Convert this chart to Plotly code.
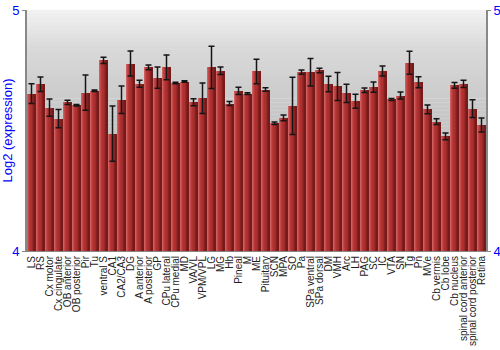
import plotly.graph_objects as go

regions = ["LS", "RS", "Cx motor", "Cx cingulate", "OB anterior", "OB posterior", "Pir", "Tu",
           "ventral S", "CA1", "CA2/CA3", "DG", "A anterior", "A posterior", "GP", "CPu lateral",
           "CPu medial", "MD", "VA/VL", "VPM/VPL", "LG", "MG", "Hb", "Pineal", "M", "ME",
           "Pituitary", "SCN", "MPA", "SO", "Pa", "SPa ventral", "SPa dorsal", "DM", "VMH", "Arc",
           "LH", "PAG", "SC", "IC", "VTA", "SN", "Tg", "Pn", "MVe", "Cb vermis", "Cb lobe",
           "Cb nucleus", "spinal cord anterior", "spinal cord posterior", "Retina"]

expression = [4.653, 4.692, 4.595, 4.549, 4.617, 4.605, 4.657, 4.665,
              4.791, 4.487, 4.628, 4.778, 4.694, 4.762, 4.719, 4.762,
              4.697, 4.703, 4.617, 4.634, 4.762, 4.748, 4.612, 4.664, 4.653, 4.745,
              4.670, 4.530, 4.552, 4.602, 4.742, 4.742, 4.749, 4.693, 4.683, 4.654,
              4.621, 4.667, 4.680, 4.747, 4.629, 4.645, 4.781, 4.700, 4.588, 4.537, 4.476,
              4.687, 4.693, 4.591, 4.523]

error = [0.041, 0.030, 0.036, 0.038, 0.009, 0.003, 0.073, 0.003,
         0.013, 0.115, 0.057, 0.052, 0.0145, 0.0097, 0.044, 0.051,
         0.003, 0.003, 0.0145, 0.063, 0.088, 0.016, 0.008, 0.015, 0.004, 0.051,
         0.007, 0.005, 0.012, 0.119, 0.009, 0.057, 0.009, 0.032, 0.058, 0.038,
         0.029, 0.0095, 0.021, 0.021, 0.004, 0.0145, 0.048, 0.023, 0.018, 0.012, 0.014,
         0.012, 0.015, 0.037, 0.029]

y_ticks = [4, 5]

fig = go.Figure()

# gradient background strips
n_strips = 60
def bg_level(t):
    pts = [(0.0, 242), (0.17, 216), (0.46, 198), (1.0, 186)]
    for (t0, v0), (t1, v1) in zip(pts, pts[1:]):
        if t0 <= t <= t1:
            return v0 + (v1 - v0) * (t - t0) / (t1 - t0)
    return pts[-1][1]
shapes = []
for k in range(n_strips):
    t = (k + 0.5) / n_strips
    v = int(round(bg_level(t)))
    shapes.append(dict(type="rect", xref="paper", yref="paper",
                       x0=0, x1=1, y0=1 - (k + 1) / n_strips, y1=1 - k / n_strips + 0.001,
                       fillcolor=f"rgb({v},{v},{v})", line=dict(width=0), layer="below"))

# bars drawn as vertical stripes to imitate a horizontal gradient
stripe_colors = ["#d06060", "#c44848", "#b83a3a", "#ac3030", "#9c2828", "#882020", "#741a1a"]
total_w = 0.86
sw = total_w / len(stripe_colors)
for k, c in enumerate(stripe_colors):
    fig.add_trace(go.Bar(x=regions, y=expression, width=sw + 0.01, offset=-total_w / 2 + k * sw,
                         marker=dict(color=c, line=dict(width=0)), hoverinfo="skip",
                         showlegend=False))

fig.add_trace(go.Scatter(x=regions, y=expression, mode="markers",
                         marker=dict(size=1, color="rgba(0,0,0,0)"),
                         error_y=dict(type="data", array=error, visible=True,
                                      color="#151515", thickness=1.5, width=3),
                         showlegend=False))

fig.add_trace(go.Scatter(x=[regions[0]], y=[4.5], yaxis="y2", mode="markers",
                         marker=dict(size=1, color="rgba(0,0,0,0)"), showlegend=False,
                         hoverinfo="skip"))

fig.update_layout(
    width=500, height=350,
    margin=dict(l=27, r=14, t=10, b=99),
    paper_bgcolor="white", plot_bgcolor="white",
    barmode="overlay", bargap=0,
    shapes=shapes,
    font=dict(family="Liberation Sans, Arial, sans-serif"),
    xaxis=dict(type="category", tickangle=-90, tickfont=dict(size=10, color="#222"),
               tickmode="array", tickvals=regions, ticktext=regions, automargin=False,
               showgrid=False, showline=True, linecolor="#888", linewidth=1,
               ticks="", ticklen=0, range=[-0.5, len(regions) - 0.5]),
    yaxis=dict(range=[4, 5], tickvals=y_ticks, ticktext=[str(v) for v in y_ticks],
               tickfont=dict(size=13, color="blue"), showgrid=False, zeroline=False,
               showline=True, linecolor="#888", linewidth=2, ticks="outside", ticklen=3,
               tickcolor="#888", automargin=False,
               title=dict(text="Log2 (expression)", font=dict(size=13, color="blue"), standoff=0)),
    yaxis2=dict(range=[4, 5], overlaying="y", side="right", tickvals=y_ticks,
                ticktext=[str(v) for v in y_ticks], tickfont=dict(size=13, color="blue"),
                showgrid=False, zeroline=False, showline=True, linecolor="#888", linewidth=2,
                ticks="outside", ticklen=3, tickcolor="#888", automargin=False),
)

fig.write_html("out.html")
